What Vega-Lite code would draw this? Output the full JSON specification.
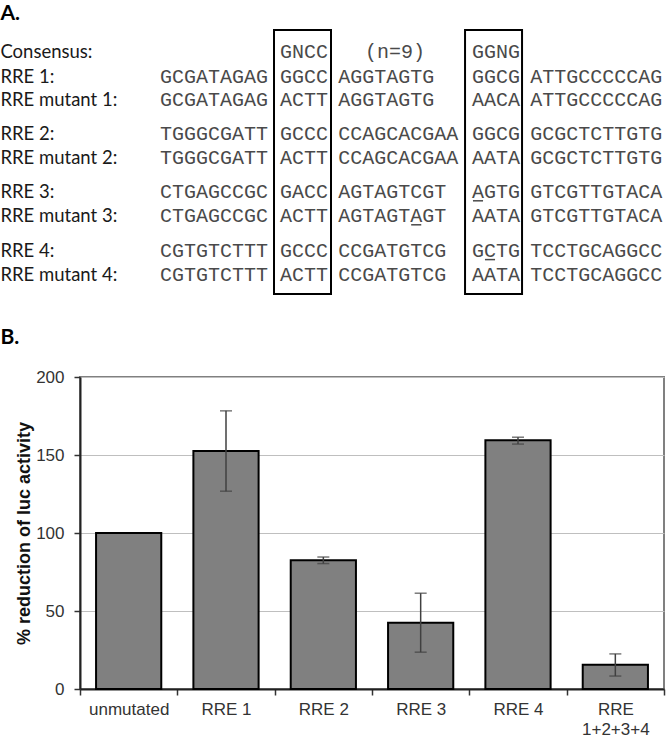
{
  "$schema": "https://vega.github.io/schema/vega-lite/v6.json",
  "padding": 0,
  "spacing": 0,
  "bounds": "flush",
  "config": {"font": "Liberation Sans"},
  "datasets": {
    "boxes": [
      {"col": 9.5, "col2": 14.25, "line": -0.917, "line2": 10.08},
      {"col": 25.42, "col2": 30.17, "line": -0.917, "line2": 10.08}
    ],
    "underlines": [
      {"col": 26.08, "col2": 26.92, "line": 6.2},
      {"col": 20.93, "col2": 21.77, "line": 7.2},
      {"col": 27.08, "col2": 27.92, "line": 8.65}
    ],
    "labels": [
      {"line": 0, "col": -13.3, "text": "Consensus:"},
      {"line": 1.05, "col": -13.3, "text": "RRE 1:"},
      {"line": 2.0, "col": -13.3, "text": "RRE mutant 1:"},
      {"line": 3.4, "col": -13.3, "text": "RRE 2:"},
      {"line": 4.4, "col": -13.3, "text": "RRE mutant 2:"},
      {"line": 5.85, "col": -13.3, "text": "RRE 3:"},
      {"line": 6.85, "col": -13.3, "text": "RRE mutant 3:"},
      {"line": 8.3, "col": -13.3, "text": "RRE 4:"},
      {"line": 9.3, "col": -13.3, "text": "RRE mutant 4:"}
    ],
    "headings": [
      {"line": -1.6, "col": -13.3, "text": "A."},
      {"line": 11.9, "col": -13.3, "text": "B."}
    ],
    "seqs": [
      {"line": 0, "col": 10, "text": "GNCC"},
      {"line": 0, "col": 17.08, "text": "(n=9)"},
      {"line": 0, "col": 26, "text": "GGNG"},
      {"line": 1.05, "col": 0, "text": "GCGATAGAG"},
      {"line": 1.05, "col": 10, "text": "GGCC"},
      {"line": 1.05, "col": 14.85, "text": "AGGTAGTG"},
      {"line": 1.05, "col": 26, "text": "GGCG"},
      {"line": 1.05, "col": 30.85, "text": "ATTGCCCCCAG"},
      {"line": 2.0, "col": 0, "text": "GCGATAGAG"},
      {"line": 2.0, "col": 10, "text": "ACTT"},
      {"line": 2.0, "col": 14.85, "text": "AGGTAGTG"},
      {"line": 2.0, "col": 26, "text": "AACA"},
      {"line": 2.0, "col": 30.85, "text": "ATTGCCCCCAG"},
      {"line": 3.4, "col": 0, "text": "TGGGCGATT"},
      {"line": 3.4, "col": 10, "text": "GCCC"},
      {"line": 3.4, "col": 14.85, "text": "CCAGCACGAA"},
      {"line": 3.4, "col": 26, "text": "GGCG"},
      {"line": 3.4, "col": 30.85, "text": "GCGCTCTTGTG"},
      {"line": 4.4, "col": 0, "text": "TGGGCGATT"},
      {"line": 4.4, "col": 10, "text": "ACTT"},
      {"line": 4.4, "col": 14.85, "text": "CCAGCACGAA"},
      {"line": 4.4, "col": 26, "text": "AATA"},
      {"line": 4.4, "col": 30.85, "text": "GCGCTCTTGTG"},
      {"line": 5.85, "col": 0, "text": "CTGAGCCGC"},
      {"line": 5.85, "col": 10, "text": "GACC"},
      {"line": 5.85, "col": 14.85, "text": "AGTAGTCGT"},
      {"line": 5.85, "col": 26, "text": "AGTG"},
      {"line": 5.85, "col": 30.85, "text": "GTCGTTGTACA"},
      {"line": 6.85, "col": 0, "text": "CTGAGCCGC"},
      {"line": 6.85, "col": 10, "text": "ACTT"},
      {"line": 6.85, "col": 14.85, "text": "AGTAGTAGT"},
      {"line": 6.85, "col": 26, "text": "AATA"},
      {"line": 6.85, "col": 30.85, "text": "GTCGTTGTACA"},
      {"line": 8.3, "col": 0, "text": "CGTGTCTTT"},
      {"line": 8.3, "col": 10, "text": "GCCC"},
      {"line": 8.3, "col": 14.85, "text": "CCGATGTCG"},
      {"line": 8.3, "col": 26, "text": "GCTG"},
      {"line": 8.3, "col": 30.85, "text": "TCCTGCAGGCC"},
      {"line": 9.3, "col": 0, "text": "CGTGTCTTT"},
      {"line": 9.3, "col": 10, "text": "ACTT"},
      {"line": 9.3, "col": 14.85, "text": "CCGATGTCG"},
      {"line": 9.3, "col": 26, "text": "AATA"},
      {"line": 9.3, "col": 30.85, "text": "TCCTGCAGGCC"}
    ],
    "bars": [
      {"group": "unmutated", "value": 100, "lo": null, "hi": null},
      {"group": "RRE 1", "value": 152.5, "lo": 126.8, "hi": 178.3},
      {"group": "RRE 2", "value": 82.5, "lo": 80.4, "hi": 84.6},
      {"group": "RRE 3", "value": 42.5, "lo": 23.6, "hi": 61.4},
      {"group": "RRE 4", "value": 159.4, "lo": 157.0, "hi": 161.4},
      {"group": "RRE 1+2+3+4", "value": 15.5, "lo": 8.3, "hi": 22.5}
    ]
  },
  "vconcat": [
    {
      "width": 584,
      "height": 377,
      "view": {"stroke": null},
      "layer": [
        {
          "data": {"name": "boxes"},
          "mark": {"type": "rect", "fill": "white", "fillOpacity": 0, "stroke": "black", "strokeWidth": 2},
          "encoding": {
            "x": {"field": "col", "type": "quantitative", "scale": {"domain": [-6.6667, 42], "nice": false, "zero": false}, "axis": null},
            "x2": {"field": "col2"},
            "y": {"field": "line", "type": "quantitative", "scale": {"domain": [-2.1667, 13.5417], "nice": false, "zero": false, "reverse": true}, "axis": null},
            "y2": {"field": "line2"}
          }
        },
        {
          "data": {"name": "underlines"},
          "mark": {"type": "rule", "color": "#4a4a4a", "strokeWidth": 1.5},
          "encoding": {
            "x": {"field": "col", "type": "quantitative", "scale": {"domain": [-6.6667, 42], "nice": false, "zero": false}, "axis": null},
            "x2": {"field": "col2"},
            "y": {"field": "line", "type": "quantitative", "scale": {"domain": [-2.1667, 13.5417], "nice": false, "zero": false, "reverse": true}, "axis": null}
          }
        },
        {
          "data": {"name": "labels"},
          "mark": {"type": "text", "align": "left", "baseline": "middle", "font": "Lato", "fontSize": 18.5, "color": "#1a1a1a"},
          "encoding": {
            "x": {"field": "col", "type": "quantitative", "scale": {"domain": [-6.6667, 42], "nice": false, "zero": false}, "axis": null},
            "y": {"field": "line", "type": "quantitative", "scale": {"domain": [-2.1667, 13.5417], "nice": false, "zero": false, "reverse": true}, "axis": null},
            "text": {"field": "text", "type": "nominal"}
          }
        },
        {
          "data": {"name": "headings"},
          "mark": {"type": "text", "align": "left", "baseline": "middle", "font": "Lato", "fontWeight": "bold", "fontSize": 21, "color": "#000000"},
          "encoding": {
            "x": {"field": "col", "type": "quantitative", "scale": {"domain": [-6.6667, 42], "nice": false, "zero": false}, "axis": null},
            "y": {"field": "line", "type": "quantitative", "scale": {"domain": [-2.1667, 13.5417], "nice": false, "zero": false, "reverse": true}, "axis": null},
            "text": {"field": "text", "type": "nominal"}
          }
        },
        {
          "data": {"name": "seqs"},
          "mark": {"type": "text", "align": "left", "baseline": "middle", "font": "Liberation Mono", "fontSize": 20, "color": "#4a4a4a"},
          "encoding": {
            "x": {"field": "col", "type": "quantitative", "scale": {"domain": [-6.6667, 42], "nice": false, "zero": false}, "axis": null},
            "y": {"field": "line", "type": "quantitative", "scale": {"domain": [-2.1667, 13.5417], "nice": false, "zero": false, "reverse": true}, "axis": null},
            "text": {"field": "text", "type": "nominal"}
          }
        }
      ]
    },
    {
      "width": 584,
      "height": 312,
      "view": {"stroke": "#808080", "strokeWidth": 2},
      "data": {"name": "bars"},
      "layer": [
        {
          "mark": {"type": "bar", "fill": "#808080", "stroke": "#000000", "strokeWidth": 2, "width": {"band": 0.67}},
          "encoding": {
            "x": {
              "field": "group", "type": "nominal", "sort": null,
              "scale": {"paddingInner": 0, "paddingOuter": 0},
              "axis": {
                "title": null, "labelAngle": 0, "tickBand": "extent",
                "labelFont": "Liberation Sans", "labelFontSize": 17, "labelColor": "#333333",
                "labelPadding": 6, "labelLineHeight": 20,
                "labelExpr": "datum.value == 'RRE 1+2+3+4' ? ['RRE', '1+2+3+4'] : datum.value",
                "tickSize": 6, "tickColor": "#333333", "tickWidth": 1.5,
                "domainColor": "#222222", "domainWidth": 2
              }
            },
            "y": {
              "field": "value", "type": "quantitative",
              "scale": {"domain": [0, 200], "nice": false},
              "axis": {
                "title": "% reduction of luc activity",
                "titleFont": "Liberation Sans", "titleFontSize": 18, "titleFontWeight": "bold", "titleColor": "#111111",
                "titlePadding": 2,
                "values": [0, 50, 100, 150, 200],
                "labelFont": "Liberation Sans", "labelFontSize": 17, "labelColor": "#333333", "labelPadding": 10,
                "tickSize": 6, "tickColor": "#333333", "tickWidth": 1.5,
                "domainColor": "#222222", "domainWidth": 2,
                "grid": true, "gridColor": "#bfbfbf", "gridWidth": 1
              }
            }
          }
        },
        {
          "transform": [{"filter": "isValid(datum.lo)"}],
          "mark": {"type": "rule", "color": "#404040", "strokeWidth": 1.5},
          "encoding": {
            "x": {"field": "group", "type": "nominal", "sort": null},
            "y": {"field": "lo", "type": "quantitative"},
            "y2": {"field": "hi"}
          }
        },
        {
          "transform": [{"filter": "isValid(datum.lo)"}],
          "mark": {"type": "tick", "color": "#404040", "thickness": 1.5, "size": 12},
          "encoding": {
            "x": {"field": "group", "type": "nominal", "sort": null},
            "y": {"field": "lo", "type": "quantitative"}
          }
        },
        {
          "transform": [{"filter": "isValid(datum.hi)"}],
          "mark": {"type": "tick", "color": "#404040", "thickness": 1.5, "size": 12},
          "encoding": {
            "x": {"field": "group", "type": "nominal", "sort": null},
            "y": {"field": "hi", "type": "quantitative"}
          }
        }
      ]
    }
  ]
}
